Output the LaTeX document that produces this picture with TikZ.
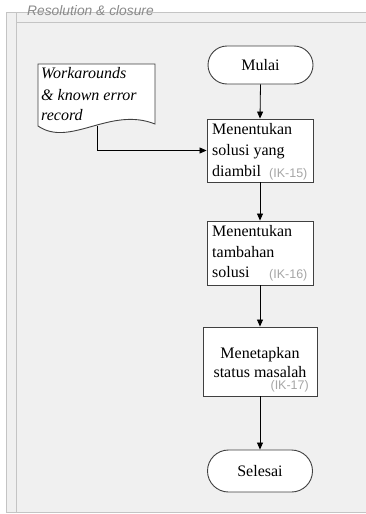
\documentclass[tikz,border=0pt]{standalone}
\usepackage{fontspec}
\setmainfont{Liberation Serif}
\newfontfamily\labelsans{Liberation Sans}
\usetikzlibrary{arrows.meta,shapes.misc}
\definecolor{lanefill}{HTML}{F0F0F0}
\definecolor{laneline}{HTML}{C4C4C4}
\definecolor{boxline}{HTML}{404040}
\definecolor{codegray}{HTML}{A6A6A6}
\definecolor{titlegray}{HTML}{8A8A8A}
\tikzset{
  stepbox/.style={draw=boxline, line width=0.9pt, fill=white, rectangle,
    minimum width=106pt, inner sep=0pt},
  termbox/.style={draw=boxline, line width=0.9pt, fill=white, rounded rectangle,
    minimum width=105pt, inner sep=0pt, font=\fontsize{16}{16}\selectfont},
  steptext/.style={anchor=base west, inner sep=0pt, font=\fontsize{16}{16}\selectfont},
  codetext/.style={anchor=base west, inner sep=0pt, text=codegray,
    font=\labelsans\fontsize{12.5}{12.5}\selectfont},
  flow/.style={draw=black, line width=0.8pt, -{Triangle[length=7pt,width=6pt]}},
}
\begin{document}
\begin{tikzpicture}[x=1pt,y=-1pt]
\useasboundingbox (0,0) rectangle (366,514);
% swimlane frame
\fill[white] (0,0) rectangle (366,514);
\fill[lanefill] (6,12) rectangle (367,512.5);
\draw[laneline, line width=0.9pt] (367,12) -- (6,12) -- (6,512.5) -- (367,512.5);
\draw[laneline, line width=0.9pt] (16,12) -- (16,512.5);
\draw[laneline, line width=0.9pt] (16,22) -- (367,22);
\node[anchor=base west, inner sep=0pt, text=titlegray,
  font=\labelsans\itshape\fontsize{13.8}{13.8}\selectfont] (lanetitle) at (27,16) {Resolution \& closure};

% document shape
\draw[draw=boxline, line width=0.9pt, fill=white]
  (38,126) -- (38,64) -- (155,64) -- (155,124)
  .. controls (110,106) and (70,148) .. (38,126) -- cycle;
\node[steptext, font=\itshape\fontsize{16}{16}\selectfont] (docA) at (41,78) {Workarounds};
\node[steptext, font=\itshape\fontsize{16}{16}\selectfont] (docB) at (41,100) {\& known error};
\node[steptext, font=\itshape\fontsize{16}{16}\selectfont] (docC) at (41,120) {record};
\coordinate (docout) at (97,125.5);

% flow steps
\node[termbox, minimum height=38pt] (mulai) at (260.5,65) {Mulai};

\node[stepbox, minimum height=63pt] (s1) at (260,150.5) {};
\node[steptext] (s1a) at (212,134) {Menentukan};
\node[steptext] (s1b) at (212,155) {solusi yang};
\node[steptext] (s1c) at (212,176) {diambil};
\node[codetext] (s1k) at (269,177) {(IK-15)};

\node[stepbox, minimum height=64pt] (s2) at (260,253) {};
\node[steptext] (s2a) at (212,236.5) {Menentukan};
\node[steptext] (s2b) at (212,257) {tambahan};
\node[steptext] (s2c) at (212,277.5) {solusi};
\node[codetext] (s2k) at (269,278) {(IK-16)};

\node[stepbox, minimum width=114pt, minimum height=69pt] (s3) at (260,361.5) {};
\node[anchor=base, inner sep=0pt, font=\fontsize{16}{16}\selectfont] (s3a) at (260,358) {Menetapkan};
\node[anchor=base, inner sep=0pt, font=\fontsize{16}{16}\selectfont] (s3b) at (260,377.5) {status masalah};
\node[codetext, anchor=base east] (s3k) at (309,389.5) {(IK-17)};

\node[termbox, minimum height=42pt] (selesai) at (260,471) {Selesai};

% connectors
\draw[flow] (mulai.south) -- (s1.north);
\draw[flow] (s1.south) -- (s2.north);
\draw[flow] (s2.south) -- (s3.north);
\draw[flow] (s3.south) -- (selesai.north);
\draw[flow] (docout) |- (s1.west);
\end{tikzpicture}
\end{document}
